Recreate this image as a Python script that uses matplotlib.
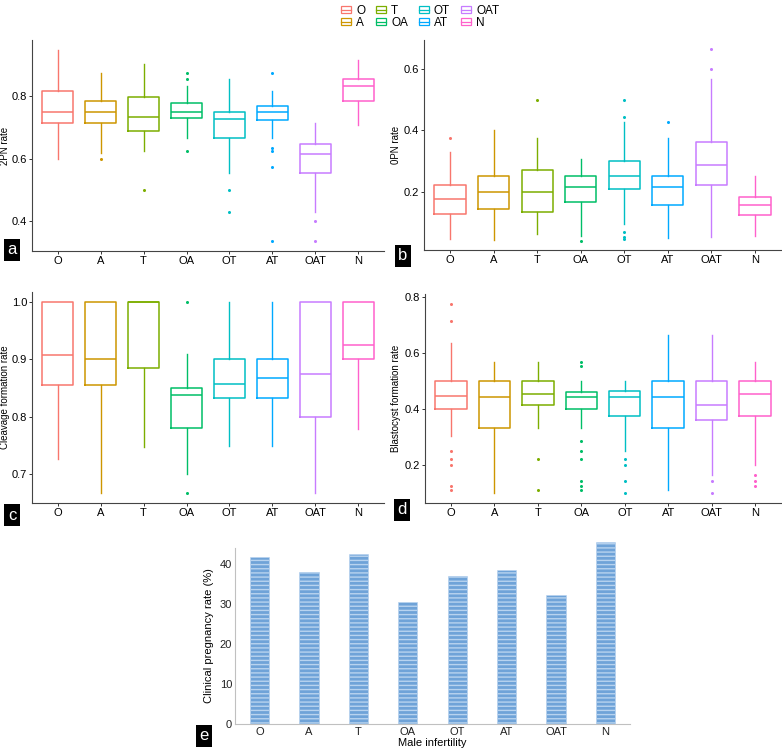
import matplotlib
matplotlib.use("Agg")
import matplotlib.pyplot as plt
from matplotlib.patches import Patch
from matplotlib.lines import Line2D
from matplotlib.legend_handler import HandlerTuple

plt.rcParams['font.family'] = ['Liberation Sans', 'DejaVu Sans']

groups = ['O', 'A', 'T', 'OA', 'OT', 'AT', 'OAT', 'N']
colors = ['#F8766D', '#CD9600', '#7CAE00', '#00BE67', '#00BFC4', '#00A9FF', '#C77CFF', '#FF61CC']

# a - 2PN rate
pn2_low = [0.600, 0.617, 0.624, 0.667, 0.556, 0.667, 0.430, 0.709]
pn2_q1 = [0.716, 0.714, 0.690, 0.732, 0.667, 0.723, 0.556, 0.785]
pn2_med = [0.751, 0.751, 0.733, 0.751, 0.727, 0.751, 0.616, 0.834]
pn2_q3 = [0.817, 0.785, 0.798, 0.779, 0.750, 0.768, 0.647, 0.856]
pn2_high = [0.949, 0.874, 0.902, 0.832, 0.856, 0.817, 0.715, 0.915]
pn2_out = [[], [0.600], [0.500], [0.874, 0.856, 0.624], [0.500, 0.429],
           [0.874, 0.636, 0.624, 0.573, 0.336], [0.400, 0.336], []]

# b - 0PN rate
pn0_low = [0.045, 0.042, 0.061, 0.055, 0.093, 0.047, 0.053, 0.055]
pn0_q1 = [0.126, 0.142, 0.133, 0.166, 0.210, 0.155, 0.222, 0.125]
pn0_med = [0.176, 0.200, 0.200, 0.215, 0.251, 0.215, 0.286, 0.155]
pn0_q3 = [0.222, 0.251, 0.271, 0.251, 0.299, 0.251, 0.362, 0.182]
pn0_high = [0.330, 0.401, 0.374, 0.308, 0.427, 0.375, 0.570, 0.251]
pn0_out = [[0.375], [], [0.500], [0.040], [0.500, 0.443, 0.068, 0.053, 0.045],
           [0.429], [0.665, 0.600], []]

# c - cleavage formation rate
clv_low = [0.726, 0.667, 0.747, 0.700, 0.750, 0.750, 0.667, 0.778]
clv_q1 = [0.856, 0.856, 0.885, 0.780, 0.833, 0.833, 0.800, 0.900]
clv_med = [0.908, 0.900, 1.000, 0.837, 0.857, 0.867, 0.875, 0.925]
clv_q3 = [1.000, 1.000, 1.000, 0.850, 0.900, 0.900, 1.000, 1.000]
clv_high = [1.000, 1.000, 1.000, 0.910, 1.000, 1.000, 1.000, 1.000]
clv_out = [[], [], [], [1.000, 0.667], [], [], [], []]

# d - blastocyst formation rate
bla_low = [0.305, 0.100, 0.333, 0.333, 0.250, 0.111, 0.167, 0.200]
bla_q1 = [0.400, 0.333, 0.417, 0.400, 0.375, 0.333, 0.364, 0.375]
bla_med = [0.447, 0.444, 0.455, 0.444, 0.444, 0.444, 0.417, 0.455]
bla_q3 = [0.500, 0.500, 0.500, 0.462, 0.467, 0.500, 0.500, 0.500]
bla_high = [0.638, 0.571, 0.571, 0.500, 0.500, 0.667, 0.667, 0.571]
bla_out = [[0.778, 0.714, 0.250, 0.222, 0.200, 0.125, 0.111], [], [0.222, 0.111],
           [0.571, 0.556, 0.286, 0.250, 0.222, 0.143, 0.125, 0.111],
           [0.222, 0.200, 0.143, 0.100], [], [0.143, 0.100], [0.167, 0.143, 0.125]]

# e - clinical pregnancy rate (%)
preg_rate = [41.8, 38.1, 42.5, 30.6, 37.1, 38.5, 32.3, 45.4]

W, H = 782, 750
fig = plt.figure(figsize=(W / 100, H / 100), dpi=100)


def px_axes(x0, y0, x1, y1):
    return fig.add_axes([x0 / W, 1 - y1 / H, (x1 - x0) / W, (y1 - y0) / H])


def box_panel(ax, low, q1, med, q3, high, out, ylim, yticks, ylabel, label_x):
    stats = []
    for i in range(len(groups)):
        stats.append(dict(whislo=low[i], q1=q1[i], med=med[i], q3=q3[i],
                          whishi=high[i], fliers=out[i]))
    res = ax.bxp(stats, positions=range(len(groups)), widths=0.72, showcaps=False,
                 flierprops=dict(marker='o', markersize=2.2, markeredgewidth=0))
    for i, c in enumerate(colors):
        res['boxes'][i].set(color=c, linewidth=1.1)
        res['medians'][i].set(color=c, linewidth=1.1)
        res['whiskers'][2 * i].set(color=c, linewidth=1.0)
        res['whiskers'][2 * i + 1].set(color=c, linewidth=1.0)
        res['fliers'][i].set(markerfacecolor=c)
    ax.set_xlim(-0.6, 7.6)
    ax.set_ylim(*ylim)
    ax.set_yticks(yticks)
    ax.set_xticks(range(len(groups)))
    ax.set_xticklabels(groups)
    ax.set_ylabel(ylabel, fontsize=7)
    # place the y title at a fixed pixel column
    bb = ax.get_position()
    ax.yaxis.set_label_coords((label_x / W - bb.x0) / bb.width, 0.5)
    for s in ['top', 'right']:
        ax.spines[s].set_visible(False)
    for s in ['left', 'bottom']:
        ax.spines[s].set(color='#444444', linewidth=0.8)
    ax.tick_params(labelsize=8, length=2, width=0.7, colors='#333333',
                   labelcolor='black', pad=1.5)


ax_a = px_axes(32, 40, 384, 251)
box_panel(ax_a, pn2_low, pn2_q1, pn2_med, pn2_q3, pn2_high, pn2_out,
          (0.305, 0.98), [0.4, 0.6, 0.8], '2PN rate', 10)
ax_b = px_axes(424, 40, 781, 250)
box_panel(ax_b, pn0_low, pn0_q1, pn0_med, pn0_q3, pn0_high, pn0_out,
          (0.009, 0.696), [0.2, 0.4, 0.6], '0PN rate', 401)
ax_c = px_axes(32, 292, 384, 503)
box_panel(ax_c, clv_low, clv_q1, clv_med, clv_q3, clv_high, clv_out,
          (0.650, 1.017), [0.7, 0.8, 0.9, 1.0], 'Cleavage formation rate', 10)
ax_d = px_axes(425, 294, 781, 503)
box_panel(ax_d, bla_low, bla_q1, bla_med, bla_q3, bla_high, bla_out,
          (0.066, 0.812), [0.2, 0.4, 0.6, 0.8], 'Blastocyst formation rate', 401)

# bar panel
ax_e = px_axes(235, 548, 630, 724)
ax_e.bar(range(len(groups)), preg_rate, width=0.39, color='#6fa3d8',
         edgecolor='#b8d3ef', linewidth=0.4, hatch='----', clip_on=False)
ax_e.set_xlim(-0.5, 7.5)
ax_e.set_ylim(0, 44)
ax_e.set_yticks([0, 10, 20, 30, 40])
ax_e.set_xticks(range(len(groups)))
ax_e.set_xticklabels(groups)
ax_e.set_xlabel('Male infertility', fontsize=8, labelpad=1)
ax_e.set_ylabel('Clinical pregnancy rate (%)', fontsize=8, labelpad=4)
for s in ['top', 'right']:
    ax_e.spines[s].set_visible(False)
for s in ['left', 'bottom']:
    ax_e.spines[s].set(color='#c0c0c0', linewidth=0.8)
ax_e.tick_params(labelsize=8, length=0, pad=2, labelcolor='#222222')

# panel letters
for letter, x, y in [('a', 12, 250), ('b', 403, 256), ('c', 12, 515),
                     ('d', 402, 510), ('e', 204, 736)]:
    fig.text(x / W, 1 - y / H, letter, ha='center', va='center', color='white',
             fontsize=12, bbox=dict(boxstyle='square,pad=0.22', fc='black', ec='none'))

# legend
handles = []
for c in colors:
    handles.append((Patch(facecolor='white', edgecolor=c, linewidth=0.9),
                    Line2D([], [], color=c, linewidth=0.9)))
fig.legend(handles, groups, ncol=4, loc='upper center', bbox_to_anchor=(420 / W, 1.008),
           frameon=False, fontsize=8.5, handlelength=0.9, handleheight=0.55,
           handletextpad=0.4, columnspacing=0.9, labelspacing=0.0,
           handler_map={tuple: HandlerTuple(ndivide=1)})

fig.savefig('out.png', dpi=100)
